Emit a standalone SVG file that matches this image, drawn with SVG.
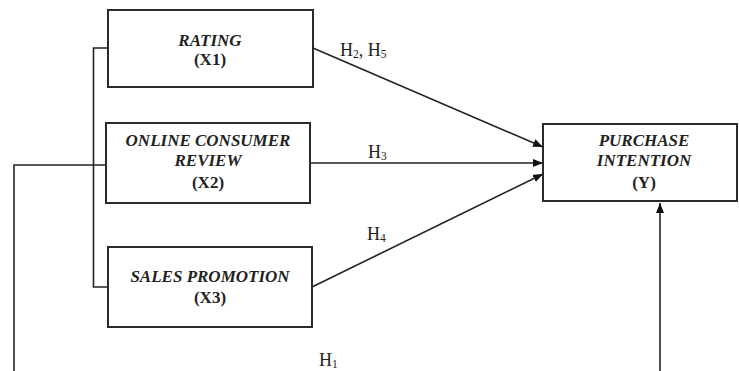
<svg xmlns="http://www.w3.org/2000/svg" width="739" height="371" viewBox="0 0 739 371">
<style>
.box{fill:#fff;stroke:#2b2b2b;stroke-width:2}
.t{font-family:"Liberation Serif","Times New Roman",serif;font-size:17px;font-weight:bold;font-style:italic;fill:#222;text-anchor:middle}
.c{font-family:"Liberation Serif","Times New Roman",serif;font-size:17px;font-weight:bold;fill:#222;text-anchor:middle}
.h{font-family:"Liberation Serif","Times New Roman",serif;font-size:18px;fill:#222}
.s{font-size:11.5px}
.ln{fill:none;stroke:#222;stroke-width:1.6}
</style>
<defs>
<marker id="ah" markerWidth="10" markerHeight="8" refX="10" refY="4" orient="auto" markerUnits="userSpaceOnUse">
<path d="M0,0 L10,4 L0,8 Z" fill="#111"/>
</marker>
</defs>
<rect width="739" height="371" fill="#fff"/>
<g id="connectors">
<path class="ln" d="M108,48 H93.5 V287 H108"/>
<path class="ln" d="M106,165 H14 V371"/>
<path class="ln" d="M313,48 L543,147" marker-end="url(#ah)"/>
<path class="ln" d="M310,163 L543,163" marker-end="url(#ah)"/>
<path class="ln" d="M312,287 L543,174" marker-end="url(#ah)"/>
<path class="ln" d="M660,371 L660,203" marker-end="url(#ah)"/>
<text class="h" x="340" y="56">H<tspan class="s" dy="2">2</tspan><tspan dy="-2">, H</tspan><tspan class="s" dy="2">5</tspan></text>
<text class="h" x="368" y="158">H<tspan class="s" dy="2">3</tspan></text>
<text class="h" x="367" y="240">H<tspan class="s" dy="2">4</tspan></text>
<text class="h" x="319" y="366">H<tspan class="s" dy="2">1</tspan></text>
</g>
<g id="rating">
<rect class="box" x="108" y="10" width="205" height="77"/>
<text class="t" x="210" y="46">RATING</text>
<text class="c" x="210" y="65">(X1)</text>
</g>
<g id="online-review">
<rect class="box" x="106" y="123" width="204" height="80"/>
<text class="t" x="208" y="146">ONLINE CONSUMER</text>
<text class="t" x="208" y="166">REVIEW</text>
<text class="c" x="208" y="188">(X2)</text>
</g>
<g id="sales-promotion">
<rect class="box" x="108" y="247" width="204" height="80"/>
<text class="t" x="210" y="282">SALES PROMOTION</text>
<text class="c" x="210" y="303">(X3)</text>
</g>
<g id="purchase-intention">
<rect class="box" x="543" y="124" width="194" height="77"/>
<text class="t" x="644" y="146">PURCHASE</text>
<text class="t" x="644" y="166">INTENTION</text>
<text class="c" x="644" y="188">(Y)</text>
</g>
</svg>
